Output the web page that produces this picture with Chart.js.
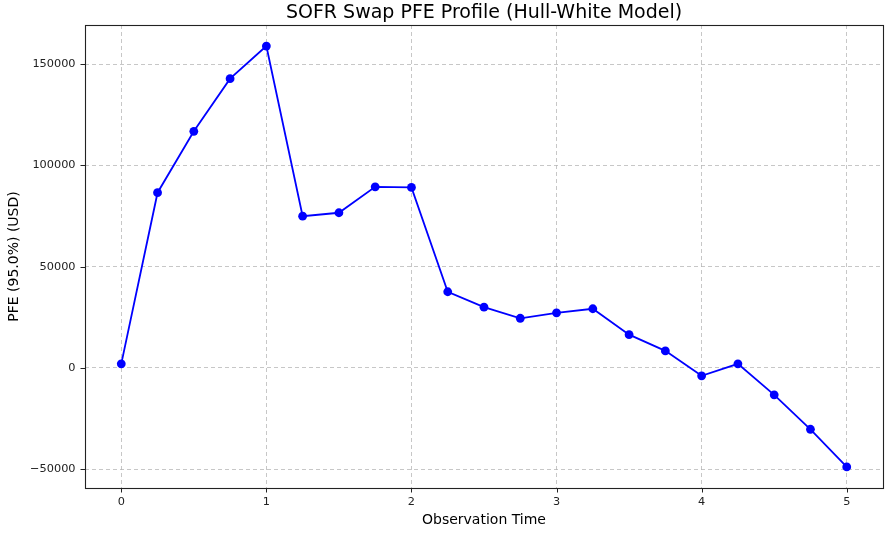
<!DOCTYPE html>
<html><head><meta charset="utf-8">
<script src="https://cdn.jsdelivr.net/npm/chart.js@4.4.0/dist/chart.umd.min.js"></script>
<style>html,body{margin:0;padding:0;background:#fff}</style>
</head><body>
<canvas id="c" width="891" height="536"></canvas>
<script>
const times = [0, 0.25, 0.5, 0.75, 1.0, 1.25, 1.5, 1.75, 2.0, 2.25, 2.5, 2.75, 3.0, 3.25, 3.5, 3.75, 4.0, 4.25, 4.5, 4.75, 5.0];
const pfe = [2000, 86500, 116800, 142800, 158900, 74900, 76600, 89400, 89100, 37600, 30000, 24500, 27200, 29200, 16400, 8400, -3900, 2000, -13300, -30300, -48900];
const xTickValues = [0, 1, 2, 3, 4, 5];
const yTickValues = [-50000, 0, 50000, 100000, 150000];
const titleText = 'SOFR Swap PFE Profile (Hull-White Model)';
const xLabel = 'Observation Time';
const yLabel = 'PFE (95.0%) (USD)';

const FONT = 'DejaVu Sans';

const framePlugin = {
  id: 'frame',
  afterDatasetsDraw(chart) {
    const {ctx, chartArea: a, scales} = chart;
    ctx.save();
    ctx.strokeStyle = '#222';
    ctx.lineWidth = 1;
    scales.x.ticks.forEach(t => {
      const px = Math.round(scales.x.getPixelForValue(t.value)) + 0.5;
      ctx.beginPath(); ctx.moveTo(px, a.bottom); ctx.lineTo(px, a.bottom + 4.5); ctx.stroke();
    });
    scales.y.ticks.forEach(t => {
      const py = Math.round(scales.y.getPixelForValue(t.value)) + 0.5;
      ctx.beginPath(); ctx.moveTo(a.left, py); ctx.lineTo(a.left - 4.5, py); ctx.stroke();
    });
    ctx.strokeStyle = '#222';
    ctx.lineWidth = 1.1;
    ctx.strokeRect(Math.round(a.left) + 0.5, Math.round(a.top) + 0.5, Math.round(a.right - a.left), Math.round(a.bottom - a.top));
    ctx.restore();
  }
};

new Chart(document.getElementById('c'), {
  type: 'line',
  data: {
    datasets: [{
      data: times.map((t, i) => ({x: t, y: pfe[i]})),
      borderColor: '#0000ff',
      backgroundColor: '#0000ff',
      borderWidth: 1.8,
      pointRadius: 4.4,
      pointHoverRadius: 4.4,
      pointBorderWidth: 0,
      tension: 0,
      fill: false
    }]
  },
  options: {
    responsive: false,
    animation: false,
    devicePixelRatio: 1,
    layout: {padding: {left: 0, right: 8, top: 0, bottom: 0}},
    plugins: {
      legend: {display: false},
      tooltip: {enabled: false},
      title: {
        display: true,
        fullSize: false,
        text: titleText,
        color: '#000',
        font: {family: FONT, size: 19, weight: 'normal', lineHeight: 1.2},
        padding: {top: 2, bottom: 0.2}
      }
    },
    scales: {
      x: {
        type: 'linear',
        min: -0.25,
        max: 5.25,
        afterBuildTicks: s => { s.ticks = xTickValues.map(v => ({value: v})); },
        afterFit: s => { s.height = 48; },
        ticks: {
          color: '#222',
          font: {family: FONT, size: 11.3},
          padding: 7,
          maxRotation: 0,
          autoSkip: false,
          callback: v => String(v)
        },
        grid: {color: 'rgba(180,180,180,0.75)', lineWidth: 1, drawTicks: false},
        border: {display: false, dash: [4, 3]},
        title: {
          display: true, text: xLabel, color: '#000',
          font: {family: FONT, size: 14, lineHeight: 1.2},
          padding: {top: 0, bottom: 7.6}
        }
      },
      y: {
        type: 'linear',
        min: -59300,
        max: 169300,
        afterBuildTicks: s => { s.ticks = yTickValues.map(v => ({value: v})); },
        afterFit: s => { s.width = 85; },
        ticks: {
          color: '#222',
          font: {family: FONT, size: 11.3},
          padding: 9.5,
          autoSkip: false,
          callback: v => String(v).replace('-', '\u2212')
        },
        grid: {color: 'rgba(180,180,180,0.75)', lineWidth: 1, drawTicks: false},
        border: {display: false, dash: [4, 3]},
        title: {
          display: true, text: yLabel, color: '#000',
          font: {family: FONT, size: 14, lineHeight: 1.2},
          padding: {top: 6.1, bottom: 0}
        }
      }
    }
  },
  plugins: [framePlugin]
});
</script>
</body></html>
